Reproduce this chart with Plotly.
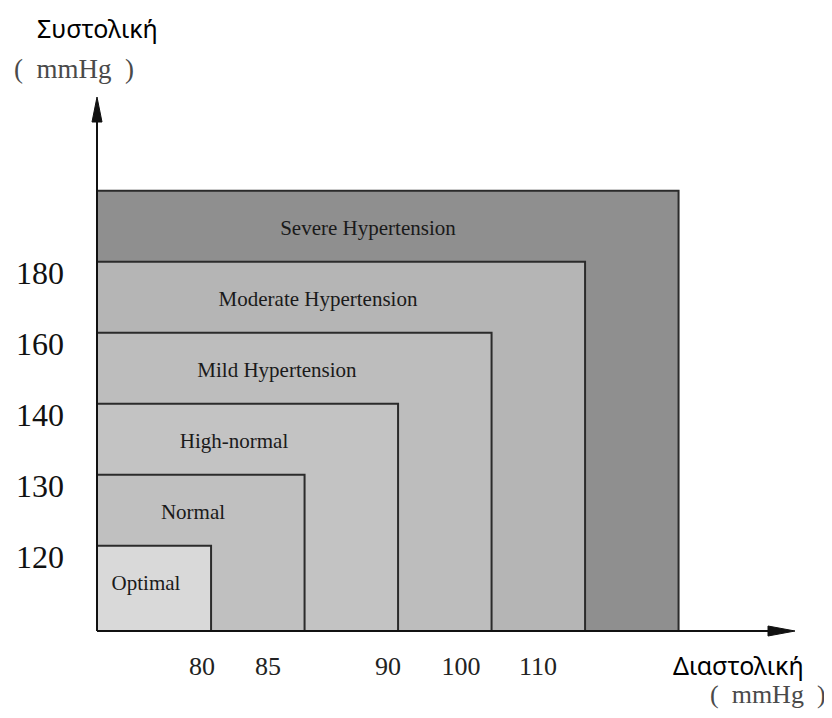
import plotly.graph_objects as go

# ---- data ----
categories = ["Optimal", "Normal", "High-normal", "Mild Hypertension",
              "Moderate Hypertension", "Severe Hypertension"]
systolic_ticks = ["120", "130", "140", "160", "180"]
diastolic_ticks = ["80", "85", "90", "100", "110"]
level_index = [0, 1, 2, 3, 4, 5]

# ---- styling / layout constants ----
fills = ["#d9d9d9", "#c0c0c0", "#c3c3c3", "#bdbdbd", "#b5b5b5", "#8f8f8f"]
edge_offset_x = 1.22
edge_offset_y = 1.2
label_x = [0.524, 1.027, 1.465, 1.925, 2.364, 2.898]
xtick_pos = [1.123, 1.829, 3.112, 3.893, 4.717]

W, H = 832, 718
ox, oy = 89, 623          # origin in figure pixels
ux, uy = 93.5, 71.0       # pixels per level unit
PW, PH = W - ox, oy       # plot area size


def px(x):
    return (x - ox) / PW


def py(y):
    return (oy - y) / PH


fig = go.Figure()

# nested rectangles, largest first
for i in reversed(level_index):
    xe = i + edge_offset_x
    ye = i + edge_offset_y
    fig.add_trace(go.Scatter(
        x=[0, xe, xe, 0, 0], y=[0, 0, ye, ye, 0],
        mode="lines", fill="toself", fillcolor=fills[i],
        line=dict(color="#2b2b2b", width=2),
        hoverinfo="skip", showlegend=False, cliponaxis=False))

fig.add_trace(go.Scatter(
    x=label_x, y=[i + edge_offset_y - 0.55 for i in level_index],
    mode="text", text=categories,
    textfont=dict(family="Liberation Serif", size=21, color="#1a1a1a"),
    hoverinfo="skip", showlegend=False, cliponaxis=False))

# axis lines with long arrowheads (paper coordinates, not clipped)
x_tip = px(787)
y_tip = py(89)
hx_len, hx_w = 27 / PW, 5 / PH
hy_len, hy_w = 25 / PH, 5 / PW
ac = "#111111"
fig.add_shape(type="line", xref="paper", yref="paper", x0=0, y0=0,
              x1=x_tip - hx_len, y1=0, line=dict(color=ac, width=2), layer="above")
fig.add_shape(type="line", xref="paper", yref="paper", x0=0, y0=0,
              x1=0, y1=y_tip - hy_len, line=dict(color=ac, width=2), layer="above")
fig.add_shape(type="path", xref="paper", yref="paper", layer="above",
              fillcolor=ac, line=dict(color=ac, width=1),
              path=f"M {x_tip} 0 L {x_tip - hx_len} {hx_w} L {x_tip - hx_len} {-hx_w} Z")
fig.add_shape(type="path", xref="paper", yref="paper", layer="above",
              fillcolor=ac, line=dict(color=ac, width=1),
              path=f"M 0 {y_tip} L {hy_w} {y_tip - hy_len} L {-hy_w} {y_tip - hy_len} Z")

# axis titles
title_font = dict(family="Noto Sans", size=25, color="#000")
unit_font = dict(family="Liberation Serif", size=27, color="#4a4a4a")
unit_font_b = dict(family="Liberation Serif", size=26, color="#4a4a4a")
for (tx, ty, txt, fnt) in [(89, 20, "Συστολική", title_font),
                           (66, 61, "(\u2002mmHg\u2002)", unit_font),
                           (730, 657, "Διαστολική", title_font),
                           (760, 687, "(\u2002mmHg\u2002)", unit_font_b)]:
    fig.add_annotation(x=px(tx), y=py(ty), xref="paper", yref="paper",
                       xanchor="center", yanchor="middle",
                       text=txt, showarrow=False, font=fnt)

fig.update_layout(
    width=W, height=H, margin=dict(l=ox, r=0, t=0, b=H - oy, autoexpand=False),
    plot_bgcolor="white", paper_bgcolor="white",
    xaxis=dict(range=[0, PW / ux], showgrid=False, zeroline=False,
               showline=False, tickvals=xtick_pos, ticktext=diastolic_ticks,
               ticks="", ticklabelstandoff=17, automargin=False,
               tickfont=dict(family="Liberation Serif", size=26, color="#222"),
               fixedrange=True),
    yaxis=dict(range=[0, PH / uy], showgrid=False, zeroline=False,
               showline=False,
               tickvals=[i + edge_offset_y - 0.15 for i in level_index[:5]],
               ticktext=systolic_ticks, ticks="", ticklabelstandoff=32,
               automargin=False,
               tickfont=dict(family="Liberation Serif", size=32, color="#111"),
               fixedrange=True),
)
fig.write_html("out.html")
